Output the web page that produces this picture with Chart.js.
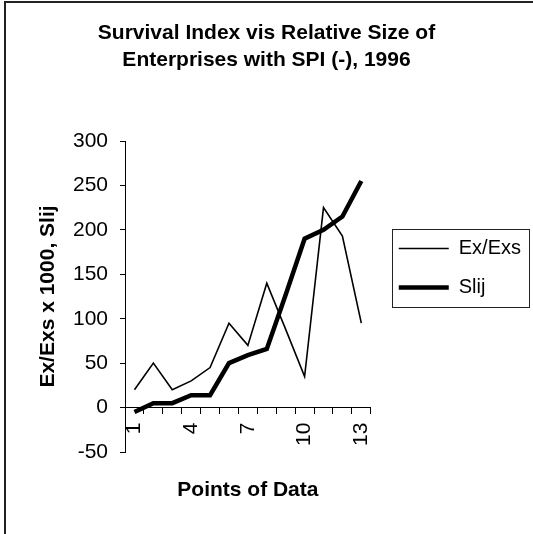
<!DOCTYPE html>
<html>
<head>
<meta charset="utf-8">
<script src="https://cdn.jsdelivr.net/npm/chart.js@4.4.1/dist/chart.umd.min.js"></script>
<style>
  html, body { margin: 0; padding: 0; background: #ffffff; }
  #c { display: block; }
</style>
</head>
<body>
<canvas id="c" width="533" height="534"></canvas>
<script>
// ---- data ----
const categories = ['1','2','3','4','5','6','7','8','9','10','11','12','13'];
const exExs = [20, 50, 20, 30, 45, 95, 70, 140, 88, 35, 225, 193, 95];
const slij  = [-5, 5, 5, 14, 14, 50, 59, 66, 127, 190, 200, 215, 255];
const yTickMin = -50, yTickMax = 300, yTickStep = 50;
const titleLines = ['Survival Index vis Relative Size of', 'Enterprises with SPI (-), 1996'];
const xTitle = 'Points of Data';
const yTitle = 'Ex/Exs x 1000, Slij';
const seriesNames = ['Ex/Exs', 'Slij'];

const FONT = "'Liberation Sans', Arial, Helvetica, sans-serif";

const framePlugin = {
  id: 'frame',
  beforeDraw(chart) {
    const ctx = chart.ctx;
    ctx.save();
    ctx.fillStyle = '#ffffff';
    ctx.fillRect(0, 0, chart.width, chart.height);
    ctx.restore();
  },
  afterDraw(chart) {
    const ctx = chart.ctx;
    ctx.save();
    // outer chart frame (cropped at right/bottom in the reference)
    ctx.strokeStyle = '#222';
    ctx.lineWidth = 2;
    ctx.beginPath();
    ctx.moveTo(5, chart.height + 5);
    ctx.lineTo(5, 2);
    ctx.lineTo(chart.width + 5, 2);
    ctx.stroke();
    // legend frame
    const lg = chart.legend;
    if (lg && lg.legendHitBoxes && lg.legendHitBoxes.length) {
      const hb = lg.legendHitBoxes;
      const x0 = Math.round(hb[0].left - 7) + 0.5;
      const y0 = Math.round(hb[0].top - 10) + 0.5;
      const x1 = Math.round(lg.right - 2) + 0.5;
      const last = hb[hb.length - 1];
      const y1 = Math.round(last.top + last.height + 9) + 0.5;
      ctx.strokeStyle = '#222';
      ctx.lineWidth = 1;
      ctx.strokeRect(x0, y0, x1 - x0, y1 - y0);
    }
    ctx.restore();
  }
};

new Chart(document.getElementById('c'), {
  type: 'line',
  data: {
    labels: categories,
    datasets: [
      {
        label: seriesNames[0],
        data: exExs,
        borderColor: '#000',
        backgroundColor: '#000',
        borderWidth: 1.6,
        pointRadius: 0,
        tension: 0,
        fill: false,
        xAxisID: 'x',
        yAxisID: 'y'
      },
      {
        label: seriesNames[1],
        data: slij,
        borderColor: '#000',
        backgroundColor: '#000',
        borderWidth: 4.5,
        pointRadius: 0,
        tension: 0,
        fill: false,
        xAxisID: 'x',
        yAxisID: 'y'
      }
    ]
  },
  options: {
    responsive: false,
    animation: false,
    devicePixelRatio: 1,
    layout: { padding: { left: 2, right: 2, top: 2, bottom: 0 } },
    plugins: {
      title: {
        display: true,
        text: titleLines,
        color: '#000',
        font: { family: FONT, size: 21, weight: 'bold', lineHeight: '26.5px' },
        padding: { top: 18, bottom: 68 }
      },
      legend: {
        display: true,
        position: 'right',
        align: 'center',
        maxWidth: 220,
        labels: {
          color: '#000',
          font: { family: FONT, size: 20 },
          usePointStyle: true,
          pointStyle: 'line',
          pointStyleWidth: 50,
          boxWidth: 50,
          padding: 19
        }
      },
      tooltip: { enabled: false }
    },
    scales: {
      x: {
        type: 'category',
        position: { y: 0 },
        offset: true,
        grid: {
          display: true,
          drawOnChartArea: false,
          drawTicks: true,
          tickLength: 6,
          offset: true,
          color: '#000',
          lineWidth: 1
        },
        border: { display: true, color: '#000', width: 1 },
        ticks: {
          autoSkip: false,
          minRotation: 90,
          maxRotation: 90,
          padding: 9,
          color: '#000',
          font: { family: FONT, size: 21 },
          callback: function (val, idx) {
            return idx % 3 === 0 ? this.getLabelForValue(val) : '';
          }
        },
        title: { display: false }
      },
      xt: {
        type: 'linear',
        position: 'bottom',
        display: true,
        grid: { display: false, drawTicks: false },
        border: { display: false },
        ticks: { display: false },
        title: {
          display: true,
          text: xTitle,
          color: '#000',
          font: { family: FONT, size: 21, weight: 'bold', lineHeight: '24px' },
          padding: { top: 26, bottom: 32 }
        }
      },
      y: {
        type: 'linear',
        position: 'left',
        min: yTickMin,
        max: yTickMax,
        grid: {
          display: true,
          drawOnChartArea: false,
          drawTicks: true,
          tickLength: 5,
          color: '#000'
        },
        border: { display: true, color: '#000', width: 1 },
        ticks: {
          stepSize: yTickStep,
          padding: 12,
          color: '#000',
          font: { family: FONT, size: 21 }
        },
        title: {
          display: true,
          text: yTitle,
          color: '#000',
          font: { family: FONT, size: 21, weight: 'bold', lineHeight: '24px' },
          padding: { top: 34, bottom: 13 }
        },
        afterFit: function (s) { s.width = 123; }
      },
      gap: {
        type: 'linear',
        position: 'right',
        display: true,
        grid: { display: false, drawTicks: false },
        border: { display: false },
        ticks: { display: false },
        afterFit: function (s) { s.width = 9; }
      }
    }
  },
  plugins: [framePlugin]
});
</script>
</body>
</html>
